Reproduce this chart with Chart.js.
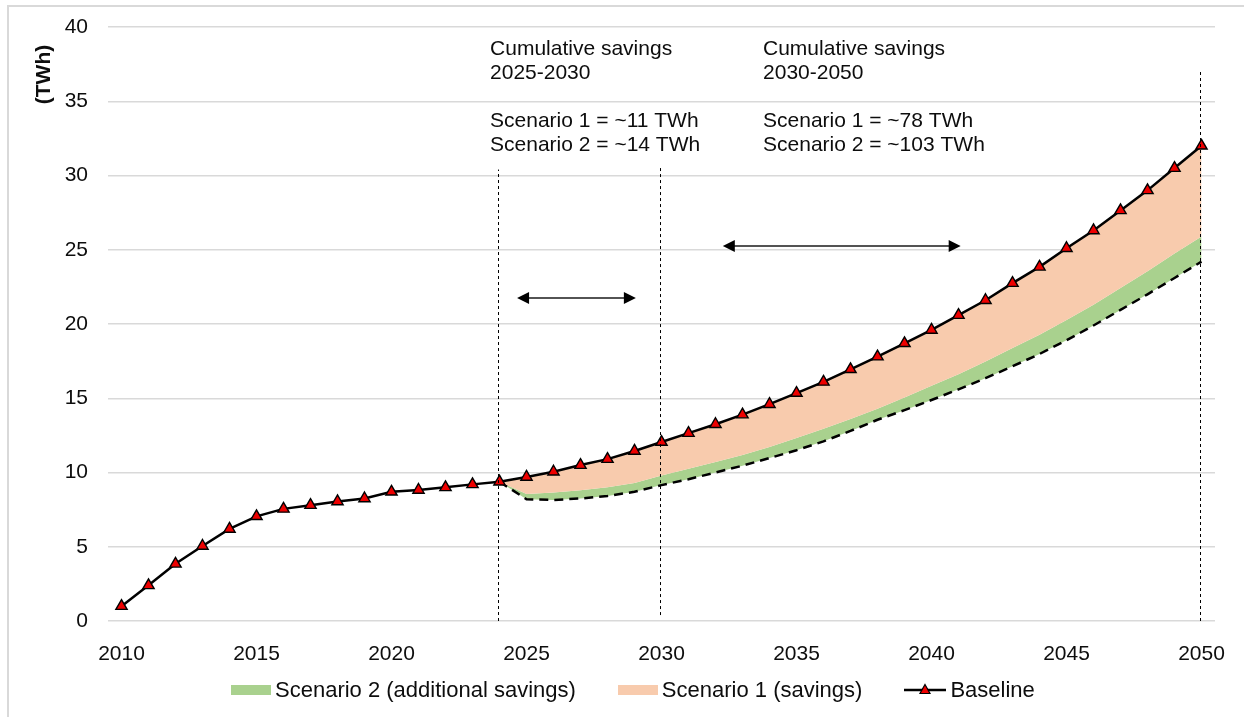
<!DOCTYPE html>
<html>
<head>
<meta charset="utf-8">
<script src="https://cdn.jsdelivr.net/npm/chart.js@4.4.1/dist/chart.umd.min.js"></script>
<style>
  html, body { margin: 0; padding: 0; background: #fff; }
  body { width: 1244px; height: 717px; position: relative; overflow: hidden;
         font-family: "Liberation Sans", Arial, sans-serif; }
  #frame { position: absolute; left: 7px; top: 5px; width: 1300px; height: 800px;
           border-left: 2px solid #d9d9d9; border-top: 2px solid #d9d9d9; }
  #chart { position: absolute; left: 0; top: 0; }
  #legend { position: absolute; left: 231px; top: 677px; height: 26px; display: flex;
            align-items: center; font-size: 22px; color: #0d0d0d; white-space: nowrap; }
  #legend .item { display: flex; align-items: center; margin-right: 42px; }
  #legend .box { width: 40px; height: 10px; margin-right: 4px; }
  #legend svg { margin-right: 4px; }
</style>
</head>
<body>
<div id="frame"></div>
<canvas id="chart" width="1244" height="717"></canvas>
<div id="legend"></div>
<script>
// Jahre (Kategorien)
var years = ['2010','2011','2012','2013','2014','2015','2016','2017','2018','2019',
             '2020','2021','2022','2023','2024','2025','2026','2027','2028','2029',
             '2030','2031','2032','2033','2034','2035','2036','2037','2038','2039',
             '2040','2041','2042','2043','2044','2045','2046','2047','2048','2049','2050'];

// Baseline (TWh)
var baseline = [1.0, 2.4, 3.85, 5.05, 6.2, 7.05, 7.55, 7.8, 8.05, 8.25,
                8.7, 8.82, 9.0, 9.2, 9.38, 9.7, 10.05, 10.5, 10.9, 11.45,
                12.05, 12.65, 13.25, 13.9, 14.6, 15.35, 16.1, 16.95, 17.8, 18.7,
                19.6, 20.6, 21.6, 22.75, 23.85, 25.1, 26.3, 27.65, 29.0, 30.5, 32.0];

// Scenario 1 (untere Kante der Einsparung)
var scenario1 = [null, null, null, null, null, null, null, null, null, null,
                 null, null, null, null, 9.38, 8.55, 8.65, 8.8, 9.0, 9.3,
                 9.8, 10.25, 10.7, 11.18, 11.72, 12.33, 12.95, 13.6, 14.3, 15.05,
                 15.85, 16.62, 17.48, 18.38, 19.28, 20.27, 21.3, 22.43, 23.55, 24.75, 25.9];

// Scenario 2 (gestrichelte Linie)
var scenario2 = [null, null, null, null, null, null, null, null, null, null,
                 null, null, null, null, 9.38, 8.2, 8.15, 8.25, 8.42, 8.7,
                 9.15, 9.55, 10.0, 10.46, 10.97, 11.5, 12.1, 12.8, 13.55, 14.2,
                 14.88, 15.6, 16.35, 17.15, 17.98, 18.9, 19.9, 20.95, 22.0, 23.1, 24.2];

var yTicks = [0, 5, 10, 15, 20, 25, 30, 35, 40];

// Hilfslinien, Pfeile, Texte
var guideLines = [
    { year: 2024, from: 0, to: 30.4 },
    { year: 2030, from: 0.4, to: 30.7 },
    { year: 2050, from: 0, to: 37.0 }
];
var arrows = [
    { from: 2024.65, to: 2029.05, at: 21.75 },
    { from: 2032.27, to: 2041.08, at: 25.25 }
];
var notes = [
    { year: 2023.65, lines: ['Cumulative savings', '2025-2030', '', 'Scenario 1 = ~11 TWh', 'Scenario 2 = ~14 TWh'] },
    { year: 2033.76, lines: ['Cumulative savings', '2030-2050', '', 'Scenario 1 = ~78 TWh', 'Scenario 2 = ~103 TWh'] }
];
var notesTop = 38.5;
var legendOrder = [2, 1, 0];

var fontFamily = '"Liberation Sans", Arial, sans-serif';
var textColor = '#0d0d0d';

Chart.defaults.font.family = fontFamily;
Chart.defaults.font.size = 21;
Chart.defaults.color = textColor;

function yearPos(scale, yr) {
    return scale.getPixelForValue(yr - 2010);
}

var overlay = {
    id: 'overlay',
    afterDatasetsDraw: function(chart) {
        var ctx = chart.ctx;
        var x = chart.scales.x, y = chart.scales.y;
        ctx.save();

        // gestrichelte Hilfslinien
        ctx.strokeStyle = '#000';
        ctx.lineWidth = 1;
        ctx.setLineDash([3, 3]);
        guideLines.forEach(function(g) {
            var px = Math.round(yearPos(x, g.year)) - 1.5;
            ctx.beginPath();
            ctx.moveTo(px, y.getPixelForValue(g.from));
            ctx.lineTo(px, y.getPixelForValue(g.to));
            ctx.stroke();
        });
        ctx.setLineDash([]);

        // Doppelpfeile
        ctx.strokeStyle = '#1a1a1a';
        ctx.fillStyle = '#000';
        ctx.lineWidth = 1.6;
        arrows.forEach(function(a) {
            var x1 = yearPos(x, a.from), x2 = yearPos(x, a.to), py = y.getPixelForValue(a.at);
            ctx.beginPath();
            ctx.moveTo(x1 + 8, py);
            ctx.lineTo(x2 - 8, py);
            ctx.stroke();
            ctx.beginPath();
            ctx.moveTo(x1, py); ctx.lineTo(x1 + 12, py - 6); ctx.lineTo(x1 + 12, py + 6); ctx.closePath();
            ctx.fill();
            ctx.beginPath();
            ctx.moveTo(x2, py); ctx.lineTo(x2 - 12, py - 6); ctx.lineTo(x2 - 12, py + 6); ctx.closePath();
            ctx.fill();
        });

        // Texte
        ctx.fillStyle = textColor;
        ctx.font = '21px ' + fontFamily;
        ctx.textAlign = 'left';
        ctx.textBaseline = 'middle';
        var top = y.getPixelForValue(notesTop);
        notes.forEach(function(n) {
            var px = yearPos(x, n.year);
            n.lines.forEach(function(line, i) {
                ctx.fillText(line, px, top + i * 24);
            });
        });

        // Achsentitel
        ctx.font = 'bold 21px ' + fontFamily;
        ctx.translate(chart.chartArea.left - 64, y.getPixelForValue(36.8));
        ctx.rotate(-Math.PI / 2);
        ctx.textAlign = 'center';
        ctx.fillText('(TWh)', 0, 0);
        ctx.restore();
    }
};

var ctx = document.getElementById('chart').getContext('2d');
var chart = new Chart(ctx, {
    type: 'line',
    data: {
        labels: years,
        datasets: [
            {
                label: 'Baseline',
                data: baseline,
                borderColor: '#000',
                borderWidth: 2.5,
                pointStyle: 'triangle',
                pointRadius: 6.5,
                pointBackgroundColor: '#ee0000',
                pointBorderColor: '#000',
                pointBorderWidth: 1.4,
                tension: 0,
                fill: false
            },
            {
                label: 'Scenario 1 (savings)',
                data: scenario1,
                borderWidth: 0,
                borderColor: 'rgba(0,0,0,0)',
                backgroundColor: '#f8cbad',
                pointRadius: 0,
                tension: 0,
                fill: 0
            },
            {
                label: 'Scenario 2 (additional savings)',
                data: scenario2,
                borderColor: '#000',
                borderWidth: 2.5,
                borderDash: [9, 6],
                backgroundColor: '#a9d18e',
                pointRadius: 0,
                tension: 0,
                fill: 1
            }
        ]
    },
    options: {
        responsive: false,
        animation: false,
        devicePixelRatio: 1,
        layout: { padding: { left: 0, top: 27, right: 29, bottom: 56 } },
        plugins: {
            legend: { display: false },
            tooltip: { enabled: false }
        },
        scales: {
            x: {
                offset: true,
                grid: { display: false },
                border: { display: false },
                ticks: {
                    autoSkip: false,
                    maxRotation: 0,
                    padding: 13,
                    callback: function(value) {
                        var l = this.getLabelForValue(value);
                        return Number(l) % 5 === 0 ? l : '';
                    }
                },
                afterFit: function(scale) { scale.height = 40; }
            },
            y: {
                min: yTicks[0],
                max: yTicks[yTicks.length - 1],
                afterBuildTicks: function(scale) {
                    scale.ticks = yTicks.map(function(v) { return { value: v }; });
                },
                grid: { color: '#d9d9d9', lineWidth: 1.5, drawTicks: false },
                border: { display: false },
                ticks: { padding: 20 },
                afterFit: function(scale) {
                    scale.width = 108;
                    scale.paddingTop = 0;
                    scale.paddingBottom = 0;
                }
            }
        }
    },
    plugins: [overlay]
});

// Legende als HTML, aus den Datensätzen erzeugt
var legendEl = document.getElementById('legend');
legendOrder.forEach(function(idx) {
    var ds = chart.data.datasets[idx];
    var item = document.createElement('div');
    item.className = 'item';
    if (ds.pointStyle === 'triangle') {
        item.innerHTML = '<svg width="42" height="14" viewBox="0 0 42 14">' +
            '<line x1="0" y1="7" x2="42" y2="7" stroke="' + ds.borderColor + '" stroke-width="2.5"/>' +
            '<polygon points="21,1.5 26,10.5 16,10.5" fill="' + ds.pointBackgroundColor +
            '" stroke="#000" stroke-width="1.2"/></svg>';
    } else {
        var box = document.createElement('span');
        box.className = 'box';
        box.style.background = ds.backgroundColor;
        item.appendChild(box);
    }
    var txt = document.createElement('span');
    txt.textContent = ds.label;
    item.appendChild(txt);
    legendEl.appendChild(item);
});
</script>
</body>
</html>
